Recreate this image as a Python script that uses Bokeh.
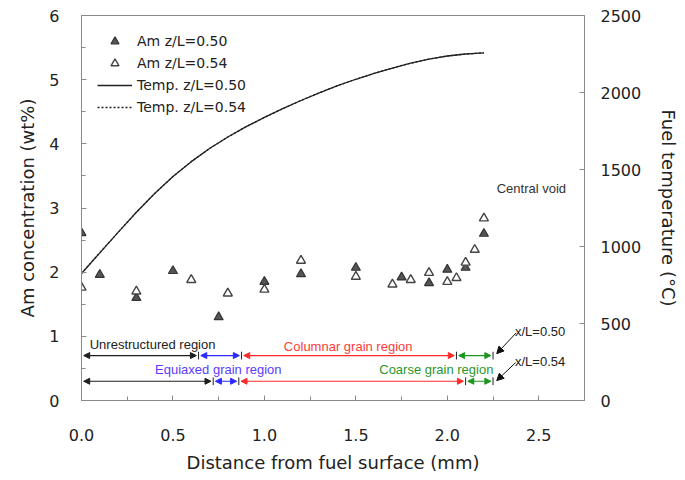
from bokeh.plotting import figure
from bokeh.models import (Range1d, LinearAxis, Legend, LegendItem, Arrow, NormalHead,
                          Label, SingleIntervalTicker, NumeralTickFormatter)
from bokeh.embed import file_html
from bokeh.resources import INLINE

# ---------------- data ----------------
am050_x = [0.0, 0.1, 0.3, 0.5, 0.75, 1.0, 1.2, 1.5, 1.75, 1.9, 2.0, 2.1, 2.2]
am050_y = [2.61, 1.96, 1.60, 2.02, 1.30, 1.85, 1.97, 2.07, 1.92, 1.83, 2.04, 2.07, 2.60]

am054_x = [0.0, 0.3, 0.6, 0.8, 1.0, 1.2, 1.5, 1.7, 1.8, 1.9, 2.0, 2.05, 2.1, 2.15, 2.2]
am054_y = [1.76, 1.70, 1.88, 1.67, 1.73, 2.18, 1.93, 1.81, 1.88, 1.99, 1.85, 1.91, 2.15, 2.35, 2.84]

temp_x = [0.0, 0.1, 0.2, 0.3, 0.4, 0.5, 0.6, 0.7, 0.8, 0.9, 1.0, 1.1,
          1.2, 1.3, 1.4, 1.5, 1.6, 1.7, 1.8, 1.9, 2.0, 2.1, 2.2]
temp050 = [825, 959, 1092, 1222, 1344, 1454, 1551, 1636, 1711, 1778, 1838, 1895,
           1948, 1998, 2044, 2086, 2124, 2159, 2190, 2217, 2237, 2250, 2257]
temp054 = [825, 959, 1092, 1222, 1344, 1454, 1551, 1636, 1711, 1778, 1838, 1895,
           1948, 1998, 2044, 2086, 2124, 2159, 2190, 2217, 2237, 2250, 2257]

region_names = ["Unrestructured region", "Equiaxed grain region",
                "Columnar grain region", "Coarse grain region"]
region_colors = ["#1e1e1e", "#2a2aff", "#ff2a2a", "#1c961c"]
region_text_colors = ["#222222", "#5a3cff", "#ff3b3b", "#2a962a"]
bounds_050 = [0.0, 0.64, 0.875, 2.05, 2.25]
bounds_054 = [0.0, 0.72, 0.86, 2.10, 2.25]
level_050 = 0.70
level_054 = 0.30

FONT = "DejaVu Sans"
FONT2 = "Liberation Sans"

p = figure(width=685, height=480, x_range=Range1d(0, 2.75), y_range=Range1d(0, 6),
           output_backend="svg", toolbar_location=None,
           min_border_left=81, min_border_right=101, min_border_top=15, min_border_bottom=80)
p.extra_y_ranges = {"temp": Range1d(0, 2500)}
p.xgrid.visible = False
p.ygrid.visible = False
p.outline_line_color = "#8a8a8a"
p.background_fill_color = "white"

lax = p.left[0]
bax = p.below[0]
rax = LinearAxis(y_range_name="temp", axis_label="Fuel temperature (°C)")
p.add_layout(rax, "right")

bax.ticker = SingleIntervalTicker(interval=0.5, num_minor_ticks=2)
bax.formatter = NumeralTickFormatter(format="0.0")
lax.ticker = SingleIntervalTicker(interval=1, num_minor_ticks=2)
rax.ticker = SingleIntervalTicker(interval=500, num_minor_ticks=0)

bax.axis_label = "Distance from fuel surface (mm)"
lax.axis_label = "Am concentration (wt%)"

for ax in [bax, lax, rax]:
    ax.axis_line_color = "#8a8a8a"
    ax.major_tick_line_color = "#8a8a8a"
    ax.minor_tick_line_color = "#8a8a8a"
    ax.major_tick_in = 5
    ax.major_tick_out = 0
    ax.minor_tick_in = 4
    ax.minor_tick_out = 0
    ax.major_label_text_font = FONT
    ax.major_label_text_font_size = "16px"
    ax.major_label_text_color = "#222222"
    ax.axis_label_text_font = FONT
    ax.axis_label_text_font_size = "18px"
    ax.axis_label_text_font_style = "normal"
    ax.axis_label_text_color = "#222222"

rax.minor_tick_line_color = None
lax.major_label_standoff = 22
lax.axis_label_standoff = 8
bax.major_label_standoff = 28
bax.axis_label_standoff = 8
rax.major_label_standoff = 16
rax.axis_label_standoff = 14

# temperature curves
l1 = p.line(temp_x, temp050, y_range_name="temp", line_color="#222222", line_width=1.3)
l2 = p.line(temp_x, temp054, y_range_name="temp", line_color="#222222", line_width=1.3,
            line_dash="2 2")

# Am data
m1 = p.scatter(am050_x, am050_y, marker="triangle", size=9, fill_color="#555555",
               line_color="#333333", line_width=1.2)
m2 = p.scatter(am054_x, am054_y, marker="triangle", size=9, fill_color="white",
               line_color="#444444", line_width=1.4)

# region arrows
gap = 0.012
tick_h = 0.06
for bounds, lvl in [(bounds_050, level_050), (bounds_054, level_054)]:
    for i in range(len(region_names)):
        c = region_colors[i]
        p.add_layout(Arrow(
            start=NormalHead(size=6, fill_color=c, line_color=c),
            end=NormalHead(size=6, fill_color=c, line_color=c),
            x_start=bounds[i] + gap, x_end=bounds[i + 1] - gap, y_start=lvl, y_end=lvl,
            line_color=c, line_width=1.2))
    p.segment(x0=bounds, x1=bounds, y0=[lvl - tick_h] * len(bounds),
              y1=[lvl + tick_h] * len(bounds), line_color="#222222", line_width=1)

# region labels
p.add_layout(Label(x=0.045, y=0.88, text=region_names[0], text_font=FONT2,
                   text_font_size="13px", text_color=region_text_colors[0],
                   text_baseline="middle", text_align="left"))
p.add_layout(Label(x=0.748, y=0.48, text=region_names[1], text_font=FONT2,
                   text_font_size="13px", text_color=region_text_colors[1],
                   text_baseline="middle", text_align="center"))
p.add_layout(Label(x=1.458, y=0.84, text=region_names[2], text_font=FONT2,
                   text_font_size="13px", text_color=region_text_colors[2],
                   text_baseline="middle", text_align="center"))
p.add_layout(Label(x=1.94, y=0.49, text=region_names[3], text_font=FONT2,
                   text_font_size="13px", text_color=region_text_colors[3],
                   text_baseline="middle", text_align="center"))

# x/L annotations
p.add_layout(Label(x=2.37, y=1.08, text="x/L=0.50", text_font=FONT2,
                   text_font_size="13px", text_color="#222222",
                   text_baseline="middle", text_align="left"))
p.add_layout(Label(x=2.37, y=0.61, text="x/L=0.54", text_font=FONT2,
                   text_font_size="13px", text_color="#222222",
                   text_baseline="middle", text_align="left"))
p.add_layout(Arrow(end=NormalHead(size=7, fill_color="#111111", line_color="#111111"),
                   x_start=2.375, y_start=1.05, x_end=2.27, y_end=0.73,
                   line_color="#111111", line_width=1))
p.add_layout(Arrow(end=NormalHead(size=7, fill_color="#111111", line_color="#111111"),
                   x_start=2.373, y_start=0.59, x_end=2.27, y_end=0.31,
                   line_color="#111111", line_width=1))

p.add_layout(Label(x=2.27, y=3.30, text="Central void", text_font=FONT2,
                   text_font_size="13px", text_color="#333333",
                   text_baseline="middle", text_align="left"))

legend = Legend(items=[LegendItem(label="Am z/L=0.50", renderers=[m1]),
                       LegendItem(label="Am z/L=0.54", renderers=[m2]),
                       LegendItem(label="Temp. z/L=0.50", renderers=[l1]),
                       LegendItem(label="Temp. z/L=0.54", renderers=[l2])],
                location="top_left", border_line_color=None, background_fill_alpha=0,
                label_text_font=FONT, label_text_font_size="14px", label_text_color="#222222",
                glyph_width=35, glyph_height=20, label_height=20, spacing=2,
                padding=8, margin=16, label_standoff=5)
p.add_layout(legend)

open("out.html", "w").write(file_html(p, INLINE))
